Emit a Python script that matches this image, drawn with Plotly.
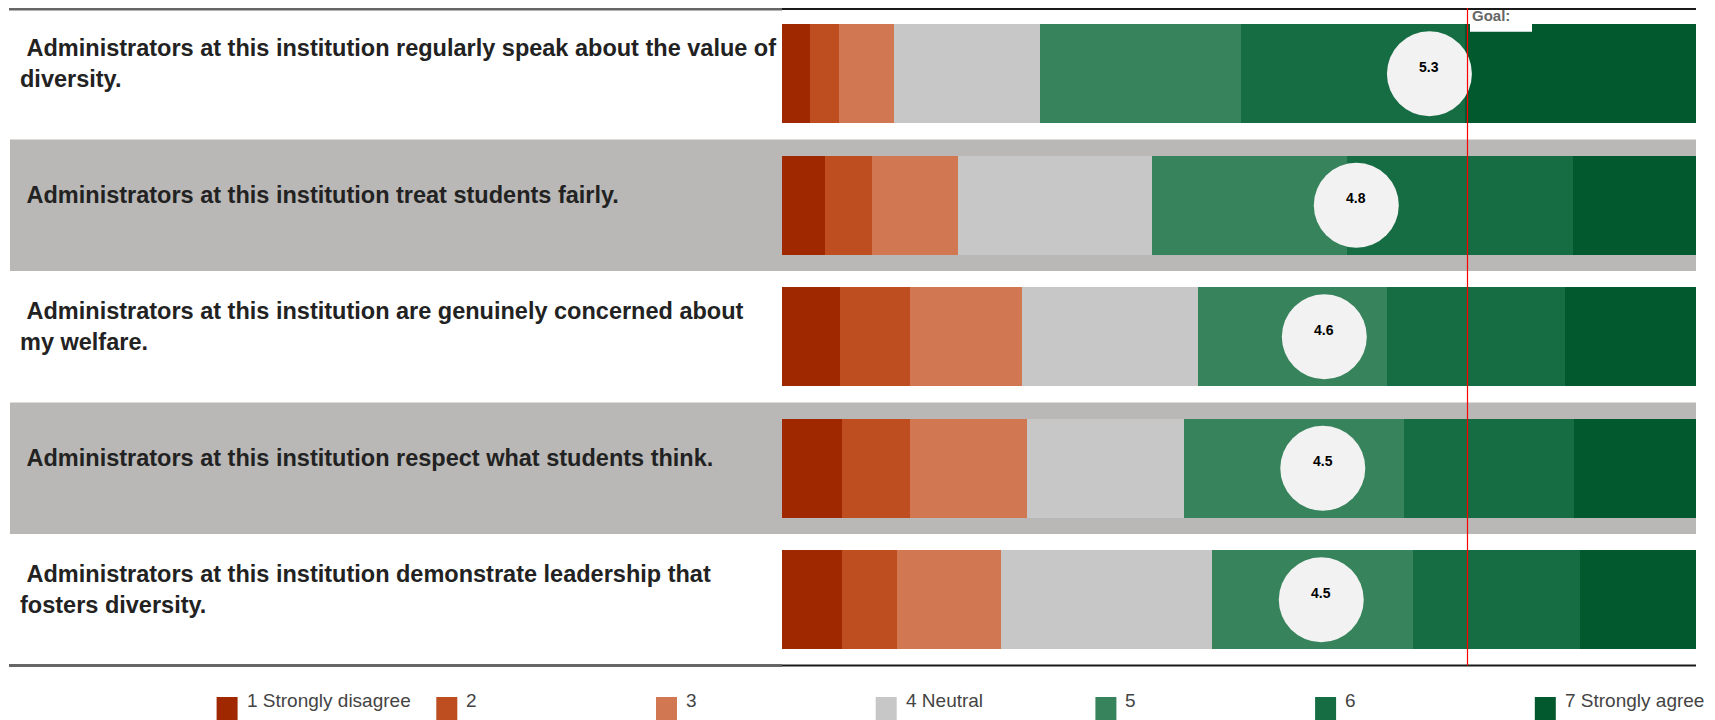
import plotly.graph_objects as go

# ---------------- data ----------------
statements = [
    "\u00a0Administrators at this institution regularly speak about the value of<br>diversity.",
    "\u00a0Administrators at this institution treat students fairly.",
    "\u00a0Administrators at this institution are genuinely concerned about<br>my welfare.",
    "\u00a0Administrators at this institution respect what students think.",
    "\u00a0Administrators at this institution demonstrate leadership that<br>fosters diversity.",
]
categories = ["1 Strongly disagree", "2", "3", "4 Neutral", "5", "6", "7 Strongly agree"]

resp_1 = [3.1, 4.7, 6.3, 6.6, 6.6]
resp_2 = [3.1, 5.1, 7.7, 7.4, 6.0]
resp_3 = [6.0, 9.5, 12.3, 12.8, 11.4]
resp_4 = [16.0, 21.2, 19.2, 17.2, 23.1]
resp_5 = [22.0, 21.3, 20.7, 24.1, 21.9]
resp_6 = [24.5, 24.7, 19.5, 18.5, 18.3]
resp_7 = [25.3, 13.5, 14.3, 13.4, 12.7]

means = [5.25, 4.77, 4.56, 4.55, 4.54]
mean_labels = ["5.3", "4.8", "4.6", "4.5", "4.5"]
GOAL = 5.5

colors = ["#A02800", "#BE4D20", "#D17752", "#C7C7C7", "#36835C", "#166D43", "#03592E"]

# ---------------- layout helpers ----------------
W, H = 1715, 720
OFF = 8  # page body margin
FONT = "Arial, Liberation Sans, sans-serif"


def px(x):
    return (x - OFF) / W


def py(y):
    return 1 - (y - OFF) / H


x_dom = [px(782), px(1696)]
y_bot_px = 665.5
y_dom = [py(y_bot_px), 1.0]
rows = list(range(len(statements)))

fig = go.Figure()

series = [resp_1, resp_2, resp_3, resp_4, resp_5, resp_6, resp_7]
for name, vals, col in zip(categories, series, colors):
    fig.add_trace(go.Bar(
        x=vals, y=rows, orientation="h", name=name,
        marker=dict(color=col, line=dict(width=0)),
        width=0.75, showlegend=False, hoverinfo="x+name",
    ))

fig.add_trace(go.Scatter(
    x=means, y=rows, xaxis="x2", yaxis="y", mode="markers",
    marker=dict(size=85, color="#F2F2F2", line=dict(width=0)),
    showlegend=False, hoverinfo="x", cliponaxis=False,
))

shapes = []
annotations = []

# alternating grey bands
for i in rows:
    if i % 2 == 1:
        shapes.append(dict(type="rect", xref="paper", yref="y",
                           x0=px(10), x1=px(1696), y0=i - 0.5, y1=i + 0.5,
                           fillcolor="#B9B8B6", line=dict(width=0), layer="below"))

# white box behind the goal label
shapes.append(dict(type="rect", xref="paper", yref="paper", x0=px(1470), x1=px(1532),
                   y0=py(31.7), y1=py(8), fillcolor="#FFFFFF", line=dict(width=0),
                   layer="above"))

# top / bottom rules
for ypx in (9.0, y_bot_px):
    yy = py(ypx)
    shapes.append(dict(type="line", xref="paper", yref="paper", x0=px(9), x1=px(782),
                       y0=yy, y1=yy, line=dict(color="#666666", width=3)))
    shapes.append(dict(type="line", xref="paper", yref="paper", x0=px(782), x1=px(1696),
                       y0=yy, y1=yy, line=dict(color="#1a1a1a", width=2)))

# goal line
shapes.append(dict(type="line", xref="x2", yref="paper", x0=GOAL, x1=GOAL,
                   y0=y_dom[0], y1=y_dom[1], line=dict(color="#FF0000", width=1.2),
                   layer="above"))
annotations.append(dict(xref="x2", yref="paper", x=GOAL, y=py(6.5),
                        xanchor="left", yanchor="top", xshift=3, text="<b>Goal:</b>",
                        showarrow=False, borderpad=0, align="left",
                        font=dict(family=FONT, size=15, color="#666666")))

# statement labels
for i, s in zip(rows, statements):
    annotations.append(dict(xref="paper", yref="y", x=px(19), y=i, yshift=10,
                            xanchor="left", yanchor="middle", align="left",
                            text="<b>" + s + "</b>", showarrow=False, borderpad=0,
                            font=dict(family=FONT, size=23.5, color="#222222")))

# mean labels
for i, m, lab in zip(rows, means, mean_labels):
    annotations.append(dict(xref="x2", yref="y", x=m, y=i, yshift=7,
                            text="<b>" + lab + "</b>", showarrow=False,
                            font=dict(family=FONT, size=14, color="#000000")))

# legend
for k, (name, col) in enumerate(zip(categories, colors)):
    x0 = 216.6 + 219.7 * k
    shapes.append(dict(type="rect", xref="paper", yref="paper",
                       x0=px(x0), x1=px(x0 + 21), y0=py(722), y1=py(697),
                       fillcolor=col, line=dict(width=0)))
    annotations.append(dict(xref="paper", yref="paper", x=px(x0 + 29), y=py(689),
                            xanchor="left", yanchor="top", text=name, showarrow=False,
                            borderpad=0, font=dict(family=FONT, size=19, color="#444444")))

fig.update_layout(
    width=W, height=H, margin=dict(l=0, r=0, t=0, b=0),
    paper_bgcolor="#FFFFFF", plot_bgcolor="rgba(0,0,0,0)",
    barmode="stack", bargap=0,
    xaxis=dict(domain=x_dom, range=[0, 100], visible=False, fixedrange=True),
    xaxis2=dict(domain=x_dom, range=[1, 7], overlaying="x", visible=False),
    yaxis=dict(domain=y_dom, range=[4.5, -0.5], visible=False),
    shapes=shapes, annotations=annotations, showlegend=False,
)

fig.write_html("out.html")
